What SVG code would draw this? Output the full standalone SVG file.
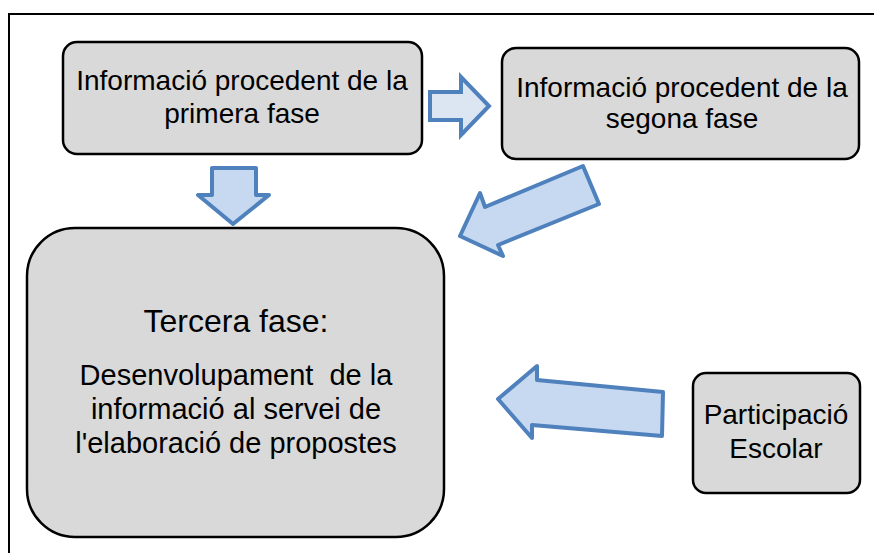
<svg xmlns="http://www.w3.org/2000/svg" width="874" height="553" viewBox="0 0 874 553">
<style>
.box{fill:#d9d9d9;stroke:#000;stroke-width:2.5}
.arr{fill:#c6d9f1;stroke:#4f81bd;stroke-width:4;stroke-linejoin:round}
.arr2{fill:#dce6f2;stroke:#4f81bd;stroke-width:4;stroke-linejoin:miter}
text{font-family:"Liberation Sans",Arial,sans-serif;fill:#000;text-anchor:middle;white-space:pre}
.t{font-size:28px}
.b{font-size:29px}
.h{font-size:32px}
</style>
<rect x="9" y="14" width="900" height="600" fill="#fff" stroke="#000" stroke-width="2"/>
<g id="connectors">
<polygon class="arr2" points="430,92 461,92 461,77 489,106 461,135 461,120 430,120"/>
<polygon class="arr" points="212,168 256,168 256,195 269,195 233,224 198,195 212,195"/>
<polygon class="arr" points="460,236 480,193 485,207 583,166 599,204 498,245 503,256"/>
<polygon class="arr" points="498,399 537,366 537,380 663,392 662,436 532,425 532,438"/>
</g>
<g id="node1">
<rect class="box" x="63" y="42" width="359" height="112" rx="14"/>
<text class="t" x="242" y="90">Informació procedent de la</text>
<text class="t" x="242" y="123">primera fase</text>
</g>
<g id="node2">
<rect class="box" x="502" y="48" width="357" height="111" rx="14"/>
<text class="t" x="682" y="97">Informació procedent de la</text>
<text class="t" x="682" y="128">segona fase</text>
</g>
<g id="node3">
<rect class="box" x="27" y="228" width="417" height="309" rx="48"/>
<text class="h" x="236" y="332">Tercera fase:</text>
<text class="b" x="236" y="385" xml:space="preserve">Desenvolupament  de la</text>
<text class="b" x="236" y="419">informació al servei de</text>
<text class="b" x="236" y="453">l'elaboració de propostes</text>
</g>
<g id="node4">
<rect class="box" x="693" y="373" width="167" height="120" rx="13"/>
<text class="t" x="776" y="424">Participació</text>
<text class="t" x="776" y="458">Escolar</text>
</g>
</svg>
